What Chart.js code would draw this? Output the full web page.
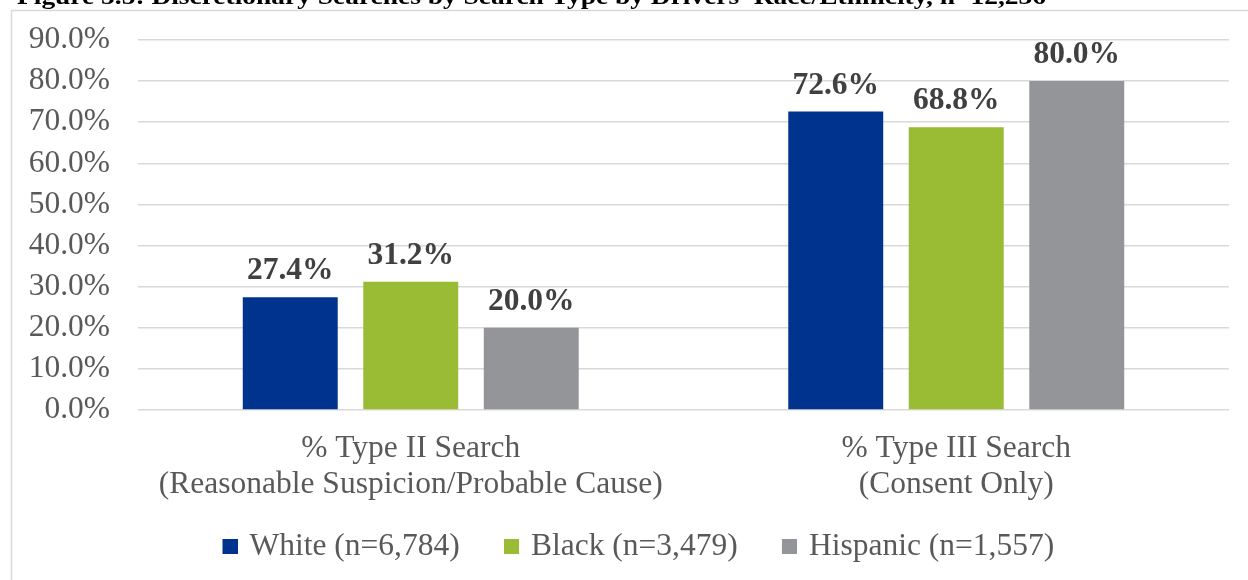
<!DOCTYPE html>
<html>
<head>
<meta charset="utf-8">
<script src="https://cdn.jsdelivr.net/npm/chart.js@4.4.1/dist/chart.umd.min.js"></script>
<style>
  html, body { margin: 0; padding: 0; background: #ffffff; }
  #wrap { position: relative; width: 1248px; height: 580px; }
  canvas { display: block; }
</style>
</head>
<body>
<div id="wrap"><canvas id="c" width="1248" height="580"></canvas></div>
<script>
const titleText = "Figure 5.5: Discretionary Searches by Search Type by Drivers' Race/Ethnicity, n=12,236";
const categories = [
  ["% Type II Search", "(Reasonable Suspicion/Probable Cause)"],
  ["% Type III Search", "(Consent Only)"]
];
const seriesNames = ["White (n=6,784)", "Black (n=3,479)", "Hispanic (n=1,557)"];
const whiteValues = [27.4, 72.6];
const blackValues = [31.2, 68.8];
const hispanicValues = [20.0, 80.0];
const seriesColors = ["#00338D", "#9ABB34", "#939598"];
const yMax = 90;
const yStep = 10;

const serif = "'Liberation Serif', 'Times New Roman', serif";
const FS = 31.5;

// legend marker: a 15px square at the right end of a wider transparent canvas
const LEG_PAD = 20, SQ = 15;
const MARK_W = 55.5 - LEG_PAD;   // pointStyleWidth
const MARK_C = MARK_W + FS / 2 - 8; // canvas width so square sits 8px before text
function makeMarker(color) {
  const cv = document.createElement('canvas');
  cv.width = Math.round(MARK_C); cv.height = SQ;
  const g = cv.getContext('2d');
  g.fillStyle = color;
  g.fillRect(cv.width - SQ, 0, SQ, SQ);
  return cv;
}
const markers = seriesColors.map(makeMarker);
const FIRST_SQUARE_LEFT = 222.5;

const extrasPlugin = {
  id: 'extras',
  afterLayout(chart) {
    const lg = chart.legend;
    if (lg && lg.lineWidths) {
      const cur = (lg.left + LEG_PAD + lg.right - lg.lineWidths[0]) / 2;
      const want = FIRST_SQUARE_LEFT - (MARK_W / 2 + markers[0].width / 2 - SQ);
      const d = want - cur;
      lg.left += d;
      lg.right += d;
    }
  },
  beforeDraw(chart) {
    const ctx = chart.ctx;
    ctx.save();
    ctx.strokeStyle = '#d9d9d9';
    ctx.lineWidth = 1.5;
    ctx.strokeRect(11.5, 10.5, 1400, 700);
    ctx.restore();
  },
  afterDatasetsDraw(chart) {
    const ctx = chart.ctx;
    ctx.save();
    ctx.font = "bold " + FS + "px " + serif;
    ctx.fillStyle = '#404040';
    ctx.textAlign = 'center';
    ctx.textBaseline = 'alphabetic';
    chart.data.datasets.forEach((ds, di) => {
      const meta = chart.getDatasetMeta(di);
      meta.data.forEach((bar, i) => {
        const v = ds.data[i];
        ctx.fillText(v.toFixed(1) + '%', bar.x, bar.y - 18);
      });
    });
    // title (partially cut off at top)
    ctx.font = "bold 24px " + serif;
    ctx.fillStyle = '#000000';
    ctx.textAlign = 'left';
    const w = ctx.measureText(titleText).width;
    ctx.translate(17, 4);
    ctx.scale(1029 / w, 1);
    ctx.fillText(titleText, 0, 0);
    ctx.restore();
  }
};

new Chart(document.getElementById('c'), {
  type: 'bar',
  data: {
    labels: categories,
    datasets: [
      { label: seriesNames[0], data: whiteValues, backgroundColor: seriesColors[0] },
      { label: seriesNames[1], data: blackValues, backgroundColor: seriesColors[1] },
      { label: seriesNames[2], data: hispanicValues, backgroundColor: seriesColors[2] }
    ]
  },
  options: {
    responsive: false,
    animation: false,
    devicePixelRatio: 1,
    layout: { padding: { left: 0, right: 19, top: 40, bottom: 8 } },
    datasets: {
      bar: { categoryPercentage: 0.6627, barPercentage: 0.788 }
    },
    scales: {
      x: {
        grid: { display: false, drawTicks: false },
        border: { display: false },
        ticks: {
          color: '#595959',
          font: { family: serif, size: FS, lineHeight: 1.143 },
          padding: 21,
          maxRotation: 0,
          autoSkip: false
        },
        afterFit(scale) { scale.height = 100.5; }
      },
      y: {
        min: 0,
        max: yMax,
        grid: { color: '#d9d9d9', lineWidth: 1.5, drawTicks: true, tickLength: 28, tickColor: 'rgba(0,0,0,0)' },
        border: { display: false },
        ticks: {
          stepSize: yStep,
          autoSkip: false,
          color: '#595959',
          font: { family: serif, size: FS },
          padding: 0,
          callback: (v) => Number(v).toFixed(1) + '%'
        },
        afterFit(scale) { scale.width = 138; }
      }
    },
    plugins: {
      legend: {
        position: 'bottom',
        labels: {
          usePointStyle: true,
          pointStyleWidth: MARK_W,
          boxHeight: SQ,
          color: '#595959',
          font: { family: serif, size: FS },
          padding: LEG_PAD,
          generateLabels(chart) {
            const items = Chart.defaults.plugins.legend.labels.generateLabels(chart);
            items.forEach((it, i) => { it.pointStyle = markers[i]; it.rotation = 0; });
            return items;
          }
        }
      },
      tooltip: { enabled: false },
      title: { display: false }
    }
  },
  plugins: [extrasPlugin]
});
</script>
</body>
</html>
